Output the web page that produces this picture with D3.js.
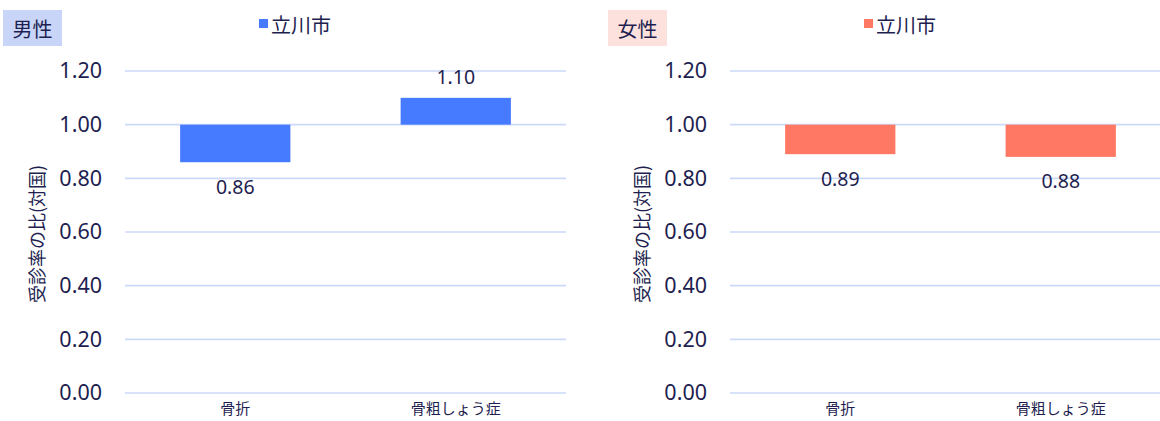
<!DOCTYPE html>
<html>
<head>
<meta charset="utf-8">
<script src="https://cdn.jsdelivr.net/npm/d3@7"></script>
<style>
  body { margin: 0; background: #fff; }
  text { font-family: "Noto Sans", "Noto Sans CJK JP", sans-serif; fill: #1e1e50; }
</style>
</head>
<body>
<script>
// data
var categories = ['骨折', '骨粗しょう症'];
var maleValues = [0.86, 1.10];
var femaleValues = [0.89, 0.88];
var yTicks = [0, 0.2, 0.4, 0.6, 0.8, 1.0, 1.2];
var legendLabel = '立川市';
var axisTitle = '受診率の比(対国)';

var width = 1160;
var height = 421;

var svg = d3.select('body').append('svg')
  .attr('width', width)
  .attr('height', height);

var panels = [
  {title: '男性', values: maleValues, ox: 0, bar: '#477bff', box: '#c9d5f8'},
  {title: '女性', values: femaleValues, ox: 605, bar: '#ff7864', box: '#fde1dc'}
];

var drawPanel = function(p) {
  var g = svg.append('g').attr('transform', 'translate(' + p.ox + ',0)');

  var x = d3.scaleBand().domain(categories).range([125, 566])
    .paddingInner(0.5).paddingOuter(0.25);
  var y = d3.scaleLinear().domain([0, 1.2]).range([393, 71]);

  // gridlines
  g.selectAll('line.grid').data(yTicks).enter().append('line')
    .attr('class', 'grid')
    .attr('x1', 125).attr('x2', 566)
    .attr('y1', function(d){ return y(d); })
    .attr('y2', function(d){ return y(d); })
    .attr('stroke', '#cdd9fa')
    .attr('stroke-width', 1.6);

  // y tick labels
  var axis = d3.axisLeft(y).tickValues(yTicks).tickFormat(d3.format('.2f')).tickSize(0).tickPadding(23);
  var ag = g.append('g').attr('transform', 'translate(125,0)').call(axis);
  ag.select('.domain').remove();
  ag.selectAll('text').attr('font-size', 21.5).style('font-family', '"Noto Sans", sans-serif')
    .attr('fill', '#1e1e50');

  // x labels
  var xa = d3.axisBottom(x).tickSize(0).tickPadding(0);
  var xg = g.append('g').attr('transform', 'translate(0,403)').call(xa);
  xg.select('.domain').remove();
  xg.selectAll('text').attr('font-size', 15).attr('dy', '0.71em')
    .style('font-family', '"Noto Sans CJK JP", sans-serif').attr('fill', '#1e1e50');

  // bars (from 1.00 to value)
  g.selectAll('rect.bar').data(p.values).enter().append('rect')
    .attr('class', 'bar')
    .attr('x', function(d, i){ return x(categories[i]); })
    .attr('width', x.bandwidth())
    .attr('y', function(d){ return y(Math.max(d, 1)); })
    .attr('height', function(d){ return Math.abs(y(d) - y(1)); })
    .attr('fill', p.bar);

  // value labels
  g.selectAll('text.val').data(p.values).enter().append('text')
    .attr('class', 'val')
    .attr('x', function(d, i){ return x(categories[i]) + x.bandwidth() / 2; })
    .attr('y', function(d){ return d < 1 ? y(d) + 24 : y(d) - 21; })
    .attr('text-anchor', 'middle')
    .attr('dominant-baseline', 'central')
    .attr('font-size', 19.5)
    .text(function(d){ return d3.format('.2f')(d); });

  // axis title
  g.append('text')
    .attr('transform', 'translate(36,234) rotate(-90)')
    .attr('text-anchor', 'middle')
    .attr('dominant-baseline', 'central')
    .attr('font-size', 18)
    .style('font-family', '"Noto Sans CJK JP", sans-serif')
    .text(axisTitle);

  // title box
  g.append('rect').attr('x', 3).attr('y', 10).attr('width', 59).attr('height', 36)
    .attr('fill', p.box);
  g.append('text').attr('x', 32.5).attr('y', 28)
    .attr('text-anchor', 'middle').attr('dominant-baseline', 'central')
    .attr('font-size', 20)
    .style('font-family', '"Noto Sans CJK JP", sans-serif')
    .text(p.title);

  // legend
  g.append('rect').attr('x', 259).attr('y', 19).attr('width', 9).attr('height', 9)
    .attr('fill', p.bar);
  g.append('text').attr('x', 271).attr('y', 24)
    .attr('dominant-baseline', 'central')
    .attr('font-size', 20)
    .style('font-family', '"Noto Sans CJK JP", sans-serif')
    .text(legendLabel);
};

panels.forEach(drawPanel);
</script>
</body>
</html>
